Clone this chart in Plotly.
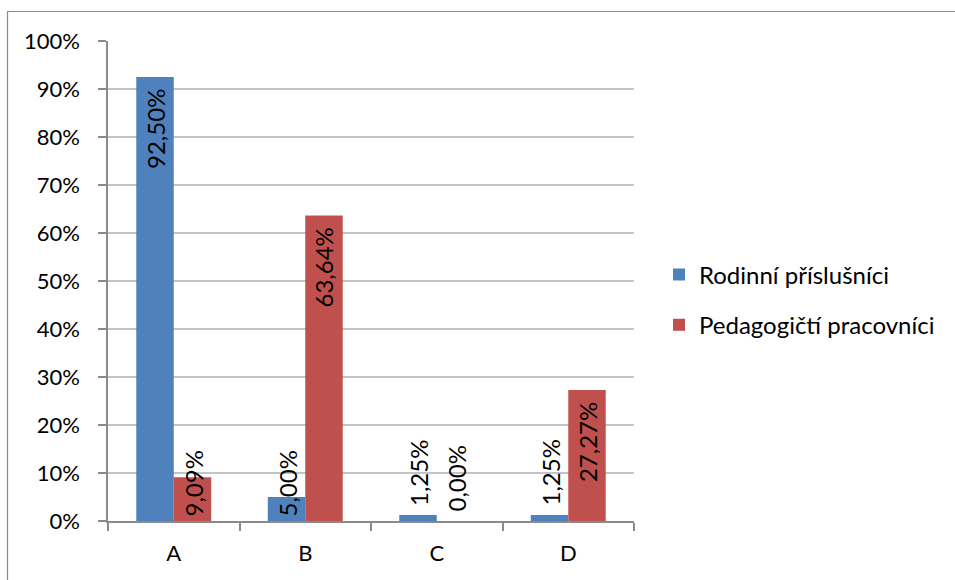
import plotly.graph_objects as go

categories = ["A", "B", "C", "D"]
series_names = ["Rodinní příslušníci", "Pedagogičtí pracovníci"]
rodinni = [0.925, 0.05, 0.0125, 0.0125]
pedagogicti = [0.0909, 0.6364, 0.0, 0.2727]
y_ticks = [0, 0.1, 0.2, 0.3, 0.4, 0.5, 0.6, 0.7, 0.8, 0.9, 1.0]
y_tick_labels = ["0%", "10%", "20%", "30%", "40%", "50%", "60%", "70%", "80%", "90%", "100%"]

colors = ["#4F81BD", "#C0504D"]
FONT = "Lato"
FS = 22
FS_LBL = 24

W, H = 955, 580
ML, MR, MT, MB = 108, W - 634, 41, H - 521
PW, PH = W - ML - MR, H - MT - MB

fig = go.Figure()
for i, (name, vals) in enumerate(zip(series_names, [rodinni, pedagogicti])):
    fig.add_trace(go.Bar(
        x=categories, y=vals, name=name,
        marker=dict(color=colors[i], line=dict(width=0)),
        legendgroup=f"g{i}",
    ))


def fmt(v):
    return f"{v * 100:.2f}".replace(".", ",") + "%"


annotations = []
for i, vals in enumerate([rodinni, pedagogicti]):
    shift = -18.75 if i == 0 else 18.75
    for c, v in zip(categories, vals):
        if v > 0.2:
            y, ya, ys = v, "top", -10
        elif v > 0.03:
            y, ya, ys = 0, "bottom", 2
        else:
            y, ya, ys = v, "bottom", 7
        annotations.append(dict(
            x=c, y=y, xref="x", yref="y", text=fmt(v), showarrow=False,
            textangle=-90, xanchor="center", yanchor=ya, xshift=shift, yshift=ys,
            font=dict(family=FONT, size=FS_LBL, color="#000000"),
        ))

fig.update_layout(
    width=W, height=H,
    margin=dict(l=ML, r=MR, t=MT, b=MB),
    paper_bgcolor="white", plot_bgcolor="white",
    barmode="group", bargap=0.43, bargroupgap=0,
    font=dict(family=FONT, size=FS, color="#000000"),
    legend=dict(
        x=(659 - ML) / PW, xanchor="left",
        y=(521 - 300) / PH, yanchor="middle",
        font=dict(family=FONT, size=FS_LBL, color="#000000"),
        traceorder="grouped", tracegroupgap=16,
        bgcolor="rgba(0,0,0,0)",
    ),
    annotations=annotations,
    shapes=[dict(
        type="rect", xref="paper", yref="paper",
        x0=(7.5 - ML) / PW, x1=(W + 5 - ML) / PW,
        y0=(521 - (H + 5)) / PH, y1=(521 - 11.5) / PH,
        line=dict(color="#8a8a8a", width=1.2), fillcolor="rgba(0,0,0,0)",
        layer="below",
    )],
)

fig.update_yaxes(
    range=[0, 1], tickvals=y_ticks, ticktext=y_tick_labels,
    showgrid=True, gridcolor="#c4c4c4", gridwidth=1.5,
    showline=True, linecolor="#8a8a8a", linewidth=1.5,
    ticks="outside", ticklen=8, tickcolor="#8a8a8a", tickwidth=1.5,
    ticklabelstandoff=14, zeroline=False,
    tickfont=dict(family=FONT, size=FS, color="#000000"),
)
fig.update_xaxes(
    showline=True, linecolor="#8a8a8a", linewidth=1.5,
    ticks="outside", ticklen=8, tickcolor="#8a8a8a", tickwidth=1.5,
    tickson="boundaries", ticklabelstandoff=12, showgrid=False,
    tickfont=dict(family=FONT, size=FS, color="#000000"),
)

fig.write_html(
    "out.html",
    config={"displayModeBar": False},
    post_script="document.body.style.margin='0';",
)
